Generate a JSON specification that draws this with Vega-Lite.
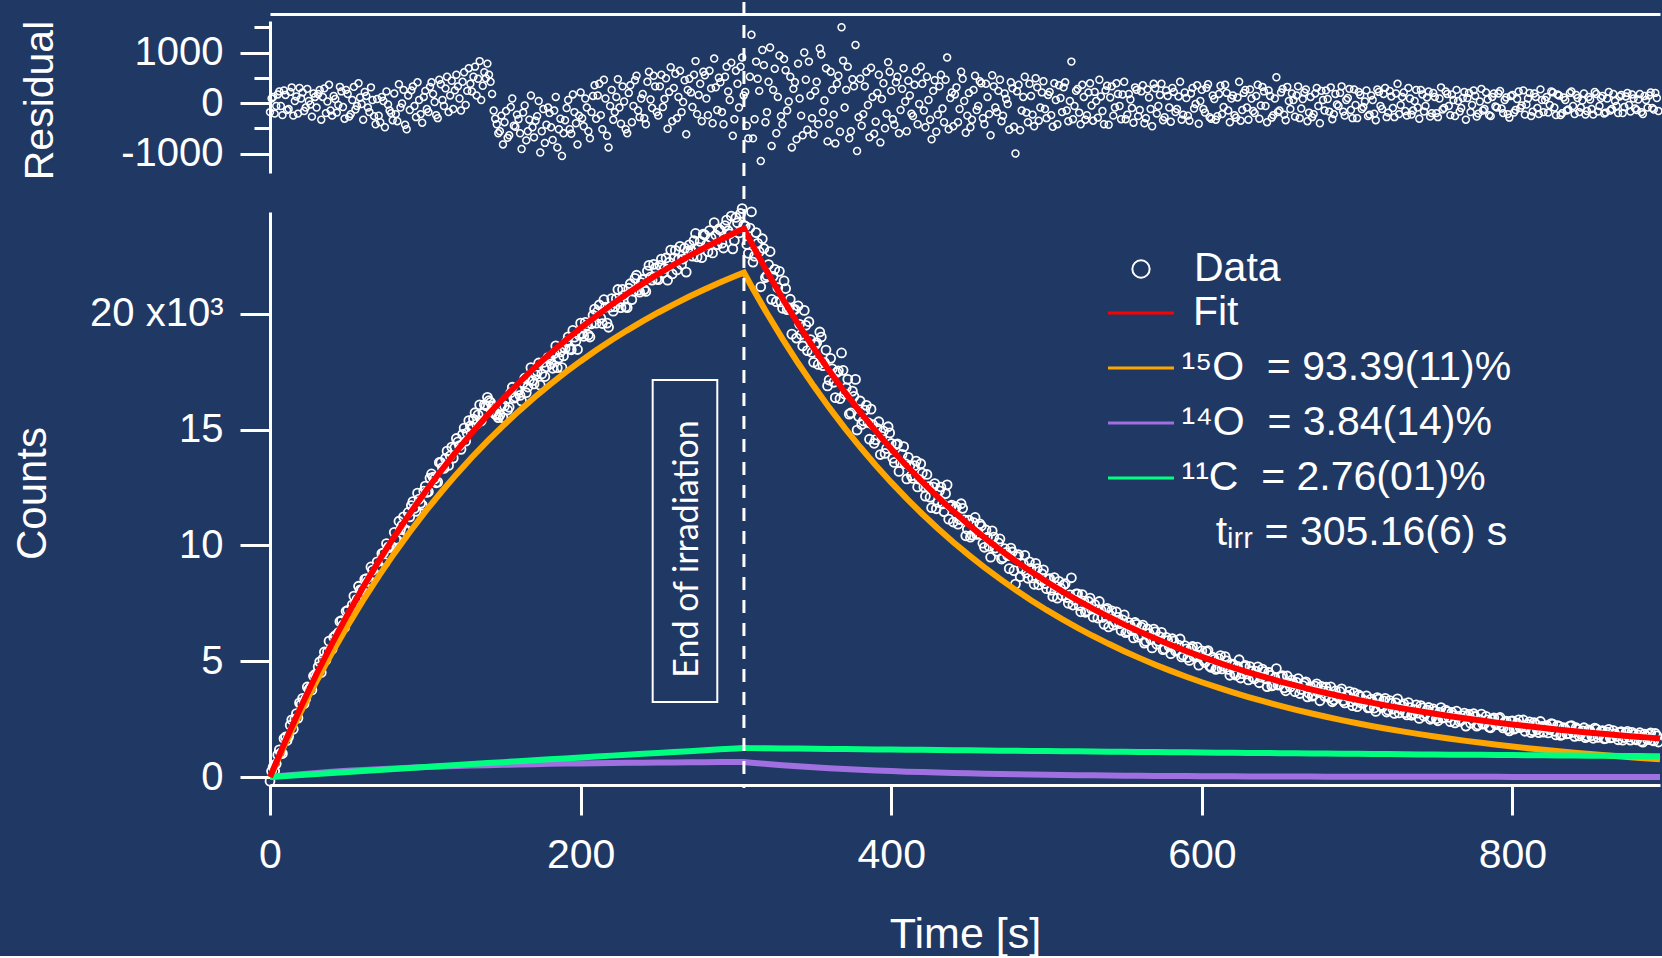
{
  "$schema": "https://vega.github.io/schema/vega-lite/v6.json",
  "background": "#203864",
  "padding": {"left": 11, "top": 0, "right": 0, "bottom": 0},
  "autosize": {"type": "pad"},
  "bounds": "flush",
  "spacing": 39,
  "data": {
    "values": "t,c,r\n0,-180,-180\n2,434,120\n4,567,-60\n6,1171,230\n8,1014,-240\n10,1728,160\n12,1744,-120\n14,2470,310\n16,2497,40\n18,2543,-210\n20,3139,90\n22,3169,-160\n24,3889,280\n26,3859,-30\n28,4359,190\n30,4359,-90\n32,4973,260\n34,5098,120\n36,5042,-200\n38,5867,360\n40,5521,-250\n42,6101,80\n44,6231,-40\n46,6751,230\n48,6461,-310\n50,7201,180\n52,7037,-220\n54,7814,320\n56,7670,-60\n58,8077,110\n60,7873,-330\n62,8566,140\n64,8470,-180\n66,8933,60\n68,8677,-420\n70,9070,-250\n72,9651,120\n74,9262,-480\n76,9924,-30\n78,9965,-200\n80,10566,190\n82,10216,-360\n84,10686,-90\n86,11235,260\n88,10655,-520\n90,11235,-140\n92,11894,330\n94,11473,-280\n96,12002,60\n98,11741,-390\n100,12560,240\n102,12319,-180\n104,13088,410\n106,12876,20\n108,12735,-300\n110,13584,370\n112,13323,-60\n114,14072,520\n116,13872,150\n118,13771,-120\n120,14620,560\n122,14310,90\n124,14800,420\n126,14500,-40\n128,15390,690\n130,15090,230\n132,15731,720\n134,15643,480\n136,15374,60\n138,16076,610\n140,16397,780\n142,16181,420\n144,15754,-150\n146,15628,-420\n148,15631,-560\n150,15515,-820\n152,16311,-160\n154,15967,-640\n156,16832,90\n158,16408,-470\n160,16694,-320\n162,16233,-910\n164,17221,-50\n166,16840,-560\n168,17678,150\n170,16977,-680\n172,17519,-260\n174,16921,-980\n176,17902,-120\n178,17714,-430\n180,18066,-200\n182,17651,-730\n184,18617,120\n186,18092,-520\n188,17678,-1050\n190,18503,-340\n192,19012,60\n194,18451,-610\n196,18991,-180\n198,18460,-820\n200,19599,210\n202,19033,-460\n204,19506,-90\n206,19000,-700\n208,19943,140\n210,19597,-310\n212,20385,380\n214,19584,-520\n216,20292,90\n218,19421,-880\n220,20659,260\n222,20312,-180\n224,21055,470\n226,20269,-410\n228,20802,30\n230,20265,-600\n232,21303,350\n234,20981,-60\n236,21670,540\n238,20938,-280\n240,21486,180\n242,20970,-420\n244,22094,620\n246,21458,-100\n248,21972,330\n250,21476,-250\n252,22365,560\n254,21965,80\n256,21454,-510\n258,22754,710\n260,22423,300\n262,21899,-300\n264,22914,640\n266,22370,20\n268,21805,-620\n270,22981,480\n272,22493,-80\n274,23474,830\n276,22876,160\n278,22427,-360\n280,23409,550\n282,22687,-240\n284,23285,290\n286,23944,880\n288,22992,-140\n290,23610,410\n292,22845,-420\n294,24049,720\n296,23454,60\n298,22808,-650\n300,24163,640\n302,23495,-90\n304,24547,900\n306,23795,220\n308,22618,-700\n310,24410,1350\n312,22493,-320\n314,23047,480\n316,21170,-1150\n318,22824,750\n320,21647,-180\n322,22694,1100\n324,21621,260\n326,20529,-600\n328,21836,940\n330,20243,-420\n332,21093,650\n334,20254,30\n336,19124,-880\n338,20195,410\n340,20345,780\n342,19108,-250\n344,20151,1000\n346,18414,-530\n348,18887,150\n350,17910,-620\n352,18754,420\n354,19219,1080\n356,17763,-180\n358,18438,690\n360,17142,-410\n362,17628,260\n364,16383,-800\n366,17539,540\n368,18314,1500\n370,16540,-90\n372,17176,720\n374,15722,-560\n376,16438,330\n378,14984,-950\n380,16240,480\n382,15376,-220\n384,16051,620\n386,14587,-680\n388,15222,120\n390,14568,-370\n392,15343,560\n394,14708,80\n396,13973,-500\n398,15128,810\n400,14403,240\n402,13587,-430\n404,14390,520\n406,13584,-140\n408,14267,690\n410,12871,-560\n412,13443,150\n414,12895,-260\n416,13646,630\n418,12858,-20\n420,13120,380\n422,12129,-480\n424,12539,60\n426,11628,-720\n428,12668,450\n430,11857,-230\n432,12524,560\n434,11461,-380\n436,12617,900\n438,11694,100\n440,11011,-460\n442,11665,310\n444,11119,-120\n446,11602,480\n448,10416,-590\n450,11090,200\n452,10450,-330\n454,11210,540\n456,10500,-60\n458,10840,390\n460,9920,-420\n462,10356,120\n464,9492,-640\n466,10359,330\n468,9745,-180\n470,10281,460\n472,9473,-250\n474,9705,80\n476,8997,-530\n478,9719,290\n480,8331,-1000\n482,9599,360\n484,8996,-150\n486,9574,520\n488,8581,-380\n490,9009,140\n492,8321,-460\n494,9004,310\n496,8516,-90\n498,8949,430\n500,8131,-300\n502,8568,220\n504,7795,-470\n506,8243,60\n508,8450,350\n510,7838,-180\n512,8350,410\n514,7502,-360\n516,8604,820\n518,7646,-60\n520,7908,280\n522,7134,-420\n524,7600,120\n526,7167,-240\n528,7723,390\n530,6909,-350\n532,7229,40\n534,7580,460\n536,6890,-160\n538,7231,250\n540,6481,-430\n542,7175,330\n544,6689,-90\n546,6893,180\n548,6327,-320\n550,7001,420\n552,6289,-230\n554,6527,70\n556,6004,-390\n558,6592,260\n560,6130,-140\n562,6561,350\n564,5852,-300\n566,6204,110\n568,5575,-460\n570,6266,290\n572,5860,-60\n574,6245,380\n576,5529,-280\n578,5894,140\n580,5328,-370\n582,5865,220\n584,5473,-120\n586,5960,420\n588,5258,-230\n590,5535,100\n592,5035,-350\n594,5636,300\n596,5266,-20\n598,4827,-410\n600,5447,260\n602,4950,-190\n604,5463,370\n606,4736,-310\n608,5079,80\n610,4692,-260\n612,5247,340\n614,4783,-80\n616,5018,200\n618,4394,-380\n620,4879,150\n622,4397,-290\n624,5065,420\n626,4463,-140\n628,4821,260\n630,4189,-330\n632,4569,90\n634,4240,-200\n636,4760,360\n638,4311,-50\n640,4551,230\n642,3903,-380\n644,4386,140\n646,3968,-240\n648,4681,510\n650,3983,-150\n652,4377,280\n654,3722,-340\n656,4066,40\n658,4181,190\n660,3685,-270\n662,4251,330\n664,3778,-110\n666,4064,210\n668,3461,-360\n670,3907,120\n672,3535,-220\n674,4023,300\n676,3292,-400\n678,3720,60\n680,3878,250\n682,3428,-170\n684,3248,-320\n686,3717,180\n688,3447,-60\n690,3807,330\n692,3199,-250\n694,3520,100\n696,3252,-140\n698,3633,270\n700,3035,-300\n702,3468,160\n704,3201,-80\n706,3504,250\n708,2997,-230\n710,3260,60\n712,2834,-340\n714,3369,220\n716,3003,-120\n718,3398,300\n720,2882,-190\n722,3178,130\n724,2744,-280\n726,3379,380\n728,2935,-40\n730,3161,210\n732,2678,-250\n734,2995,90\n736,2733,-150\n738,3120,260\n740,2527,-310\n742,2985,170\n744,2733,-60\n746,3002,230\n748,2550,-200\n750,2848,120\n752,2428,-280\n754,2997,310\n756,2567,-100\n758,2826,180\n760,2386,-240\n762,2666,60\n764,2847,260\n766,2397,-170\n768,2648,100\n770,2198,-330\n772,2710,200\n774,2451,-40\n776,2613,140\n778,2244,-210\n780,2716,280\n782,2299,-120\n784,2471,70\n786,2124,-260\n788,2556,190\n790,2259,-90\n792,2572,240\n794,2116,-200\n796,2409,110\n798,1993,-290\n800,2426,160\n802,2110,-140\n804,2465,230\n806,2169,-50\n808,1974,-230\n810,2278,90\n812,1913,-260\n814,2348,190\n816,2044,-100\n818,2399,270\n820,1934,-180\n822,2220,120\n824,2046,-40\n826,2281,210\n828,1817,-240\n830,2193,150\n832,1830,-200\n834,2076,60\n836,1873,-130\n838,2219,230\n840,1756,-220\n842,2063,100\n844,1861,-90\n846,2128,190\n848,1766,-160\n850,1983,70\n852,1671,-230\n854,2069,180\n856,1817,-60\n858,2005,140\n860,1663,-190\n862,2062,220\n864,1710,-120\n866,1859,40\n868,1607,-200\n870,1956,160\n872,1705,-80\n874,1974,200\n876,1594,-170\n878,1843,90\n880,1602,-140\n882,1912,180\n884,1501,-220\n886,1771,60\n888,1850,150\n890,1590,-100\n892,1880,200\n894,1510,-160\n1,247,90\n3,261,-210\n5,954,170\n7,1038,-60\n9,1661,250\n11,1576,-140\n13,2232,220\n15,2059,-250\n17,2735,130\n19,3201,300\n21,3399,210\n23,3379,-90\n25,3789,40\n27,3759,-270\n29,4429,120\n31,4761,180\n33,4516,-330\n35,5400,290\n37,5405,30\n39,5489,-150\n41,6036,140\n43,5956,-190\n45,6716,320\n47,6566,-80\n49,7156,260\n51,6869,-270\n53,7436,60\n55,7482,-130\n57,8239,390\n59,8065,-20\n61,8535,220\n63,8448,-90\n65,9072,310\n67,8725,-260\n69,9289,80\n71,9046,-380\n73,9677,40\n75,10078,230\n77,9910,-150\n79,9931,-340\n81,10256,-220\n83,11046,370\n85,10866,-10\n87,10645,-430\n89,11425,150\n91,11720,250\n93,11599,-60\n95,12259,410\n97,11817,-220\n99,12346,120\n101,12290,-120\n103,12909,320\n105,12947,180\n107,12706,-240\n109,13585,460\n111,13359,60\n113,13758,290\n115,13457,-180\n117,14247,440\n119,14226,250\n121,14470,330\n123,14150,-150\n125,15070,610\n127,14860,240\n129,15160,380\n131,15456,520\n133,15237,150\n135,16069,830\n137,15730,340\n139,16032,490\n141,16249,560\n143,16013,180\n145,15666,-310\n147,15520,-600\n149,16013,-250\n151,16023,-380\n153,15849,-690\n155,16595,-80\n157,16360,-450\n159,16716,-230\n161,16479,-600\n163,17017,-190\n165,16596,-740\n167,17134,-330\n169,17113,-480\n171,17368,-350\n173,17880,40\n175,17402,-560\n177,17293,-790\n179,18115,-90\n181,17844,-480\n183,18289,-150\n185,17675,-880\n187,18360,-310\n189,18186,-600\n191,18798,-100\n193,18487,-520\n195,19286,170\n197,18826,-400\n199,19085,-250\n201,19141,-300\n203,19635,90\n205,19088,-560\n207,19572,-180\n209,20205,350\n211,20106,150\n213,19815,-240\n215,20613,460\n217,19602,-650\n219,20290,-60\n221,20116,-330\n223,20659,120\n225,20542,-90\n227,21056,330\n229,20299,-520\n231,21109,200\n233,20617,-380\n235,21536,450\n237,21024,-150\n239,21352,90\n241,21048,-300\n243,21852,420\n245,21586,70\n247,22140,540\n249,21504,-180\n251,22096,330\n253,21765,-80\n255,22415,490\n257,22224,220\n259,21724,-360\n261,22741,580\n263,22357,120\n265,22132,-180\n267,22838,450\n269,22723,260\n271,22747,210\n273,23169,560\n275,22460,-220\n277,23132,380\n279,23443,620\n281,22983,90\n283,23601,640\n285,22630,-400\n287,23408,310\n289,23666,500\n291,23053,-180\n293,23817,520\n295,23592,230\n297,24226,800\n299,23171,-320\n301,23934,380\n303,24336,720\n305,23828,150\n307,22997,-450\n309,23709,520\n311,22237,-700\n313,23510,820\n315,22684,240\n317,23247,1050\n319,21571,-380\n321,22131,420\n323,20628,-850\n325,21925,680\n327,21133,120\n329,20520,-260\n331,21423,870\n333,20184,-150\n335,20634,520\n337,20175,280\n339,18955,-720\n341,19552,90\n343,18615,-640\n345,19508,460\n347,19661,820\n349,18334,-300\n351,18672,240\n353,17817,-420\n355,19001,960\n357,17896,50\n359,16890,-760\n361,18080,620\n363,17046,-230\n365,17471,380\n367,16337,-570\n369,17562,840\n371,16803,260\n373,15669,-700\n375,16665,470\n377,17171,1150\n379,15567,-280\n381,15228,-450\n383,15844,330\n385,15309,-40\n387,15885,700\n389,14410,-610\n391,15061,200\n393,13926,-780\n395,14941,390\n397,14186,-210\n399,14861,620\n401,13770,-320\n403,14354,410\n405,13197,-600\n407,13931,280\n409,13534,30\n411,13802,440\n413,13014,-210\n415,13446,360\n417,12527,-420\n419,13529,720\n421,12525,-150\n423,13064,520\n425,12084,-330\n427,12523,240\n429,11583,-570\n431,12356,330\n433,11793,-110\n435,12239,460\n437,11136,-520\n439,11743,210\n441,11583,170\n443,10917,-380\n445,11801,620\n447,11104,40\n449,10698,-250\n451,10355,-480\n453,10985,260\n455,10475,-140\n457,10935,430\n459,10095,-300\n461,10668,380\n463,9964,-220\n465,10631,550\n467,9887,-90\n469,10113,240\n471,9412,-360\n473,9864,190\n475,9556,-20\n477,9888,410\n479,8910,-470\n481,9515,230\n483,8653,-540\n485,9220,120\n487,8818,-190\n489,9295,380\n491,8595,-230\n493,9228,490\n495,8300,-350\n497,8773,210\n499,8355,-120\n501,8550,160\n503,8067,-240\n505,8614,390\n507,7722,-420\n509,8159,100\n511,8289,310\n513,7751,-150\n515,7863,40\n517,7425,-320\n519,7907,240\n521,7401,-190\n523,7877,360\n525,7114,-330\n527,7580,210\n529,7246,-50\n531,7444,220\n533,6866,-290\n535,7215,130\n537,6596,-420\n539,7286,340\n541,6988,110\n543,6562,-250\n545,7136,390\n547,6620,-60\n549,6784,170\n551,6230,-320\n553,6668,180\n555,6326,-100\n557,6673,310\n559,6041,-260\n561,6471,230\n563,5782,-400\n565,6393,270\n567,5945,-120\n569,6386,380\n571,5738,-210\n573,6053,160\n575,5497,-340\n577,6032,250\n579,5636,-90\n581,5972,300\n583,5439,-180\n585,5697,130\n587,5184,-330\n589,5672,210\n591,5160,-250\n593,5551,190\n595,5201,-110\n597,5612,350\n599,5252,40\n601,5044,-120\n603,5417,300\n605,4790,-280\n607,5173,150\n609,4646,-330\n611,5110,180\n613,4665,-220\n615,5201,360\n617,4646,-150\n619,4842,90\n621,4468,-240\n623,4776,110\n625,4274,-350\n627,4782,200\n629,4450,-90\n631,4769,270\n633,4300,-160\n635,4560,140\n637,4070,-310\n639,4661,320\n641,4242,-60\n643,4515,250\n645,3937,-290\n647,4280,90\n649,3972,-180\n651,4325,210\n653,3850,-230\n655,4364,320\n657,3889,-120\n659,4033,60\n661,4088,150\n663,3605,-300\n665,3951,80\n667,4108,270\n669,3614,-190\n671,3491,-280\n673,3929,190\n675,3648,-60\n677,3916,240\n679,3494,-150\n681,3693,80\n683,3893,310\n685,3331,-220\n687,3492,-30\n689,3692,200\n691,3293,-170\n693,3495,60\n695,3686,280\n697,3078,-300\n699,3309,-40\n701,3542,220\n703,3175,-120\n705,3298,30\n707,2981,-260\n709,3364,150\n711,2977,-210\n713,3432,270\n715,3076,-60\n717,3291,180\n719,2805,-280\n721,3300,240\n723,2936,-100\n725,3202,190\n727,2767,-220\n729,3083,120\n731,2780,-160\n733,3217,300\n735,2664,-230\n737,2912,40\n739,2759,-90\n741,3086,260\n743,2634,-170\n745,2893,110\n747,2491,-270\n749,2939,200\n751,2518,-200\n753,2788,90\n755,2547,-130\n757,2887,230\n759,2576,-60\n761,2786,170\n763,2337,-260\n765,2617,40\n767,2458,-100\n769,2758,220\n771,2619,100\n773,2321,-180\n775,2732,250\n777,2194,-270\n779,2475,30\n781,2278,-150\n783,2620,210\n785,2153,-240\n787,2495,120\n789,2288,-70\n791,2531,190\n793,2214,-110\n795,2368,60\n797,2071,-220\n799,2415,140\n801,2068,-190\n803,2323,80\n805,2127,-100\n807,2462,250\n809,2166,-30\n811,2381,200\n813,1996,-170\n815,2271,120\n817,1917,-220\n819,2182,60\n821,2167,60\n823,1903,-190\n825,2309,230\n827,1974,-90\n829,2220,170\n831,1797,-240\n833,2133,110\n835,1860,-150\n837,2196,200\n839,1923,-60\n841,2130,160\n843,1777,-180\n845,1995,50\n847,1702,-230\n849,2040,120\n851,1787,-120\n853,2115,220\n855,1713,-170\n857,1971,100\n859,1649,-210\n861,1938,90\n863,1686,-150\n865,2005,180\n867,1753,-60\n869,1932,130\n871,1591,-200\n873,1910,130\n875,1729,-40\n877,1929,170\n879,1638,-110\n881,1807,70\n883,1547,-180\n885,1856,140\n887,1616,-90\n889,1905,210\n891,1555,-130\n893,1775,100",
    "format": {"type": "csv", "parse": {"t": "number", "c": "number", "r": "number"}}
  },
  "resolve": {
    "scale": {"color": "independent", "shape": "independent"},
    "legend": {"color": "independent", "shape": "independent"}
  },
  "config": {
    "font": "Liberation Sans",
    "view": {"stroke": null},
    "axis": {
      "domainColor": "#ffffff", "domainWidth": 3, "tickColor": "#ffffff", "tickWidth": 3, "tickSize": 30,
      "labelColor": "#ffffff", "titleColor": "#ffffff", "labelFont": "Liberation Sans", "titleFont": "Liberation Sans",
      "titleFontWeight": "normal", "grid": false, "labelFontSize": 40, "titleFontSize": 41,
      "labelOverlap": false, "labelFlush": false, "labelBound": false
    }
  },
  "vconcat": [
    {
      "width": 1390,
      "height": 152,
      "mark": {"type": "point", "shape": "circle", "filled": false, "color": "#ffffff", "strokeWidth": 1.5, "size": 48, "opacity": 1},
      "encoding": {
        "x": {"field": "t", "type": "quantitative", "scale": {"domain": [0, 895], "nice": false, "zero": false},
              "axis": {"orient": "top", "offset": 7, "ticks": false, "labels": false, "title": null}},
        "y": {"field": "r", "type": "quantitative", "scale": {"domain": [-1386, 1624], "nice": false, "zero": false},
              "axis": {"values": [-1000, -500, 0, 500, 1000, 1500],
                       "labelExpr": "datum.value % 1000 === 0 ? '' + datum.value : ''",
                       "tickSize": {"condition": {"test": "datum.value % 1000 !== 0", "value": 16}, "value": 30},
                       "labelPadding": 17, "title": "Residual", "titleX": -230, "titleY": 79,
                       "titleBaseline": "middle", "titleAlign": "center", "titleAngle": 270}}
      }
    },
    {
      "width": 1390,
      "height": 565,
      "layer": [
        {
          "mark": {"type": "point", "filled": false, "color": "#ffffff", "strokeWidth": 1.8, "size": 80, "opacity": 1},
          "encoding": {
            "x": {"field": "t", "type": "quantitative", "scale": {"domain": [0, 895], "nice": false, "zero": false},
                  "axis": {"orient": "bottom", "offset": 8, "values": [0, 200, 400, 600, 800], "labelFontSize": 41,
                           "labelPadding": 20, "title": "Time [s]", "titleFontSize": 43, "titleY": 162, "titleBaseline": "alphabetic"}},
            "y": {"field": "c", "type": "quantitative", "scale": {"domain": [0, 24400], "nice": false, "zero": false},
                  "axis": {"values": [0, 5000, 10000, 15000, 20000],
                           "labelExpr": "datum.value === 20000 ? '20 x10\u00b3' : '' + datum.value / 1000",
                           "labelPadding": 17, "title": "Counts", "titleFontSize": 42, "titleX": -238, "titleY": 281,
                           "titleBaseline": "middle", "titleAlign": "center", "titleAngle": 270}},
            "shape": {
              "datum": "Data", "type": "nominal",
              "scale": {"domain": ["Data"], "range": ["circle"]},
              "legend": {
                "title": null, "orient": "none", "legendX": 850.5, "legendY": 36.5, "padding": 0, "offset": 0,
                "symbolSize": 300, "symbolStrokeWidth": 2, "symbolOffset": 0, "labelOffset": 32.5,
                "labelFont": "Liberation Sans", "labelFontSize": 41, "labelColor": "#ffffff", "labelLimit": 1000
              }
            }
          }
        },
        {
          "data": {
            "values": "t,Fit,O15,O14,C11\n0,0,0,0,0\n10,1568,1460,64,45\n20,3049,2839,122,89\n30,4449,4142,175,133\n40,5771,5373,222,177\n50,7021,6536,265,220\n60,8203,7635,304,263\n70,9320,8674,340,306\n80,10376,9655,372,349\n90,11375,10582,401,392\n100,12320,11459,428,434\n110,13214,12286,452,476\n120,14060,13069,473,518\n130,14860,13808,493,559\n140,15617,14506,511,601\n150,16335,15166,527,642\n160,17014,15789,542,683\n170,17657,16378,555,723\n180,18266,16935,567,764\n190,18843,17461,578,804\n200,19389,17957,588,844\n210,19907,18427,597,884\n220,20399,18871,605,923\n230,20865,19290,613,962\n240,21306,19686,619,1001\n250,21726,20060,625,1040\n260,22123,20414,631,1079\n270,22501,20748,636,1117\n280,22859,21063,640,1156\n290,23200,21362,644,1194\n300,23523,21644,648,1231\n305.16,23683,21783,650,1251\n310,23060,21193,620,1247\n320,21827,20025,562,1240\n330,20663,18921,509,1233\n340,19565,17878,462,1226\n350,18530,16892,419,1219\n360,17552,15961,379,1212\n370,16630,15081,344,1205\n380,15760,14249,312,1199\n390,14938,13464,283,1192\n400,14163,12722,256,1185\n410,13431,12020,232,1178\n420,12740,11358,211,1172\n430,12087,10731,191,1165\n440,11471,10140,173,1159\n450,10890,9581,157,1152\n460,10340,9053,142,1146\n470,9821,8554,129,1139\n480,9331,8082,117,1133\n490,8869,7636,106,1126\n500,8431,7215,96,1120\n510,8018,6818,87,1114\n520,7628,6442,79,1107\n530,7259,6087,72,1101\n540,6911,5751,65,1095\n550,6581,5434,59,1089\n560,6270,5134,53,1082\n570,5976,4851,48,1076\n580,5698,4584,44,1070\n590,5435,4331,40,1064\n600,5187,4092,36,1058\n610,4952,3867,33,1052\n620,4729,3654,30,1046\n630,4519,3452,27,1040\n640,4321,3262,24,1034\n650,4133,3082,22,1029\n660,3955,2912,20,1023\n670,3787,2752,18,1017\n680,3628,2600,16,1011\n690,3477,2457,15,1006\n700,3335,2321,14,1000\n710,3200,2193,12,994\n720,3072,2072,11,989\n730,2951,1958,10,983\n740,2837,1850,9,977\n750,2728,1748,8,972\n760,2626,1652,8,966\n770,2528,1561,7,961\n780,2436,1475,6,956\n790,2349,1393,6,950\n800,2266,1317,5,945\n810,2188,1244,5,939\n820,2114,1175,4,934\n830,2043,1111,4,929\n840,1976,1049,3,924\n850,1913,992,3,918\n860,1853,937,3,913\n870,1796,885,3,908\n880,1742,836,2,903\n890,1690,790,2,898\n895,1665,768,2,895",
            "format": {"type": "csv", "parse": {"t": "number", "Fit": "number", "O15": "number", "O14": "number", "C11": "number"}}
          },
          "transform": [{"fold": ["O15", "O14", "C11", "Fit"]}],
          "mark": {"type": "line", "strokeWidth": 6},
          "encoding": {
            "x": {"field": "t", "type": "quantitative"},
            "y": {"field": "value", "type": "quantitative"},
            "color": {
              "field": "key", "type": "nominal",
              "scale": {"domain": ["Fit", "O15", "O14", "C11", "tirr"],
                        "range": ["#ff0000", "#ffa500", "#a070e0", "#00ff80", "transparent"]},
              "legend": {
                "title": null, "orient": "none", "legendX": 850.5, "legendY": 80.5, "padding": 0, "offset": 0,
                "rowPadding": 13, "symbolSize": 484, "symbolStrokeWidth": 3, "symbolType": "M-3,0H3",
                "symbolOffset": 0, "labelOffset": 20, "labelFont": "Liberation Sans", "labelFontSize": 41,
                "labelColor": "#ffffff", "labelLimit": 1000,
                "labelExpr": "datum.value === 'Fit' ? '\u200b\u00a0Fit' : datum.value === 'O15' ? '\u00b9\u2075O\u00a0\u00a0= 93.39(11)%' : datum.value === 'O14' ? '\u00b9\u2074O\u00a0\u00a0= 3.84(14)%' : datum.value === 'C11' ? '\u00b9\u00b9C\u00a0\u00a0= 2.76(01)%' : '\u200b\u00a0\u00a0\u00a0t\u1d62\u1d63\u1d63\u00a0= 305.16(6) s'"
              }
            }
          }
        },
        {
          "data": {"values": [{}]},
          "mark": {"type": "rect", "fill": "transparent", "stroke": "#ffffff", "strokeWidth": 2},
          "encoding": {"x": {"datum": 246.4}, "x2": {"datum": 288.0}, "y": {"datum": 17146}, "y2": {"datum": 3239}}
        },
        {
          "data": {"values": [{}]},
          "mark": {"type": "text", "text": "End of irradiation", "angle": 270, "font": "Lato", "fontSize": 34,
                   "color": "#ffffff", "align": "center", "baseline": "middle"},
          "encoding": {"x": {"datum": 269}, "y": {"datum": 9846}}
        },
        {
          "data": {"values": [{}]},
          "mark": {"type": "rule", "color": "#ffffff", "strokeWidth": 3, "strokeDash": [13, 10], "clip": false},
          "encoding": {"x": {"datum": 305.16}, "y": {"datum": 33469}, "y2": {"datum": -475}}
        }
      ]
    }
  ]
}
